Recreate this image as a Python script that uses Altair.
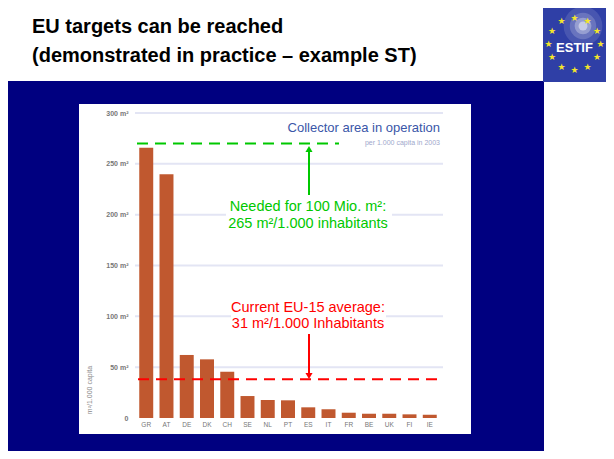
import altair as alt
import pandas as pd
import numpy as np

# ---------------- data ----------------
countries = ["GR", "AT", "DE", "DK", "CH", "SE", "NL", "PT", "ES", "IT", "FR", "BE", "UK", "FI", "IE"]
collector_area = [265.9, 239.7, 62.0, 57.7, 45.5, 21.6, 17.7, 17.4, 10.5, 8.6, 5.2, 4.2, 4.2, 3.6, 3.2]
y_ticks = [0, 50, 100, 150, 200, 250, 300]
target_level = 270    # green dashed line as drawn
average_level = 38    # red dashed line as drawn

title_lines = ["EU targets can be reached", "(demonstrated in practice – example ST)"]
green_text = ["Needed for 100 Mio. m²:", "265 m²/1.000 inhabitants"]
red_text = ["Current EU-15 average:", "31 m²/1.000 Inhabitants"]
chart_title = "Collector area in operation"
chart_subtitle = "per 1.000 capita in 2003"
y_title = "m²/1.000 capita"
logo_text = "ESTIF"

# ---------------- layout ----------------
W, H = 306, 305
PL, PT = 127, 105
TOTAL_W, TOTAL_H = 598, 443
NAVY = "#000080"
GREEN = "#00c800"
RED = "#ff0000"
BAR = "#c0582f"
FONT = "Liberation Sans"

one = pd.DataFrame({"a": [0]})
df = pd.DataFrame({"country": countries, "area": collector_area})
grid_df = pd.DataFrame({"v": y_ticks[1:]})

yscale = alt.Scale(domain=[0, 300], nice=False)
yaxis = alt.Axis(values=y_ticks, grid=False, domain=False, ticks=False,
                 labelExpr="datum.value == 0 ? '0' : datum.value + ' m²'",
                 labelFontSize=7, labelPadding=7, labelColor="#777777",
                 labelFontWeight="bold", labelFont=FONT, zindex=1)


def rect(x, x2, y, y2, color, **kw):
    return alt.Chart(one).mark_rect(color=color, **kw).encode(
        x=alt.value(x), x2=alt.value(x2), y=alt.value(y), y2=alt.value(y2))


def text(t, x, y, size, color, align="center", weight="normal", baseline="alphabetic", font=FONT, angle=0):
    return alt.Chart(one).mark_text(text=t, align=align, baseline=baseline, fontSize=size,
                                    color=color, fontWeight=weight, font=font, angle=angle).encode(
        x=alt.value(x), y=alt.value(y))


layers = []
# slide background: navy body, white chart panel
layers.append(rect(-127, 409, -32, 346, NAVY))
layers.append(rect(-56, 336, -9, 321, "white"))

# logo
layers.append(rect(408, 471, -105, -31, "#2f3fa6"))
for sz, op in [(1500, 0.12), (700, 0.18), (280, 0.3), (80, 0.45)]:
    layers.append(alt.Chart(one).mark_point(shape="circle", filled=True, size=sz, color="white",
                                            opacity=op, strokeWidth=0).encode(x=alt.value(448), y=alt.value(-87)))
cx, cy, r = 439.5, -69, 26
for k in range(12):
    ang = np.deg2rad(k * 30)
    layers.append(text("★", float(cx + r * np.sin(ang)), float(cy - r * np.cos(ang)), 9, "#f4e52a",
                       baseline="middle", font="DejaVu Sans"))
layers.append(text(logo_text, cx, cy + 4, 13, "white", weight="bold", baseline="middle"))

# slide title
layers.append(text(title_lines[0], -103, -80, 20, "black", align="left", weight="bold"))
layers.append(text(title_lines[1], -103, -51, 20, "black", align="left", weight="bold"))

# gridlines
layers.append(alt.Chart(grid_df).mark_rule(color="#e3e5f4", strokeWidth=2).encode(
    y=alt.Y("v:Q", scale=yscale, axis=yaxis, title=None),
    x=alt.value(0), x2=alt.value(308)))

# bars
layers.append(alt.Chart(df).mark_bar(color=BAR).encode(
    x=alt.X("country:N", sort=countries, title=None,
            scale=alt.Scale(paddingInner=0.31, paddingOuter=0.21),
            axis=alt.Axis(labelAngle=0, domain=False, ticks=False, labelFontSize=6.5,
                          labelPadding=3, labelColor="#777777", labelFont=FONT, zindex=1)),
    y=alt.Y("area:Q", scale=yscale, axis=yaxis, title=None)))

# chart title
layers.append(text(chart_title, 305, 19, 13, "#3a56a8", align="right"))
layers.append(text(chart_subtitle, 305, 32, 7, "#a0a8cc", align="right"))
layers.append(text(y_title, -45, 277, 7, "#888888", baseline="middle", angle=270))

# green annotation
layers.append(rect(91, 257, 83, 120, "white"))
layers.append(text(green_text[0], 173, 98, 14.5, GREEN))
layers.append(text(green_text[1], 173, 115, 14.5, GREEN))
layers.append(alt.Chart(one).mark_rule(color=GREEN, strokeWidth=2, strokeDash=[11, 7]).encode(
    y=alt.datum(target_level), x=alt.value(2), x2=alt.value(204)))
layers.append(alt.Chart(one).mark_rule(color=GREEN, strokeWidth=2).encode(
    x=alt.value(174), y=alt.value(82), y2=alt.value(38)))
layers.append(alt.Chart(one).mark_point(shape="triangle-up", filled=True, size=50, color=GREEN,
                                        opacity=1).encode(x=alt.value(174), y=alt.value(36)))

# red annotation
layers.append(rect(96, 251, 184, 220, "white"))
layers.append(text(red_text[0], 173, 199, 14.5, RED))
layers.append(text(red_text[1], 173, 215, 14.5, RED))
layers.append(alt.Chart(one).mark_rule(color=RED, strokeWidth=2, strokeDash=[11, 7]).encode(
    y=alt.datum(average_level), x=alt.value(3), x2=alt.value(305)))
layers.append(alt.Chart(one).mark_rule(color=RED, strokeWidth=2).encode(
    x=alt.value(174), y=alt.value(221), y2=alt.value(261)))
layers.append(alt.Chart(one).mark_point(shape="triangle-down", filled=True, size=50, color=RED,
                                        opacity=1).encode(x=alt.value(174), y=alt.value(263)))

chart = alt.layer(*layers).properties(
    width=W, height=H,
    padding={"left": PL, "top": PT, "right": TOTAL_W - PL - W, "bottom": TOTAL_H - PT - H},
    autosize=alt.AutoSizeParams(type="none"),
    background="white",
).configure_view(stroke=None)

chart.save("out.html", embed_options={"renderer": "svg", "actions": False})
